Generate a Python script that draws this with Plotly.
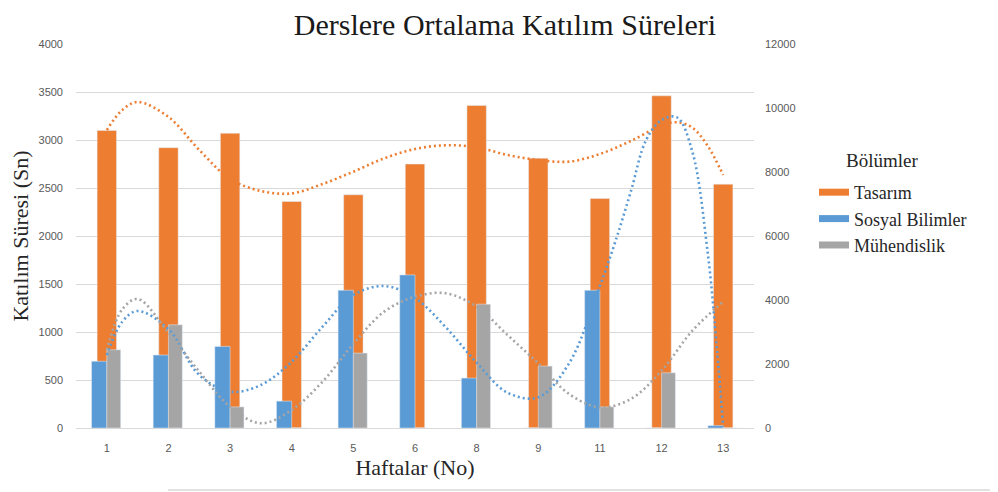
import plotly.graph_objects as go

# ---------------- data ----------------
weeks = ["1", "2", "3", "4", "5", "6", "8", "9", "11", "12", "13"]
tasarim = [3100, 2920, 3070, 2360, 2430, 2750, 3360, 2810, 2390, 3460, 2540]
sosyal = [695, 760, 850, 280, 1435, 1595, 520, 0, 1435, 0, 25]
muhendislik = [815, 1075, 220, 0, 780, 0, 1290, 645, 220, 575, 0]

# dotted trend curves (x = category position, 1 = week "1")
trend_tasarim_x = [1, 1.25, 1.5, 2, 2.5, 3, 3.5, 4, 4.5, 5, 5.5, 6, 6.5, 7, 7.5, 8, 8.5, 9, 9.5, 10, 10.25, 10.5, 10.75, 11]
trend_tasarim_y = [3104, 3312, 3396, 3240, 2896, 2594, 2469, 2444, 2542, 2670, 2809, 2906, 2945, 2924, 2844, 2792, 2775, 2854, 2990, 3150, 3185, 3128, 2937, 2635]

trend_sosyal_x = [1, 1.25, 1.5, 2, 2.5, 3, 3.5, 4, 4.5, 5, 5.5, 6, 6.5, 7, 7.5, 8, 8.5, 9, 9.25, 9.5, 9.75, 10, 10.25, 10.5, 10.75, 10.9, 11]
trend_sosyal_y = [760, 1107, 1219, 1028, 552, 378, 448, 691, 1055, 1385, 1479, 1354, 1049, 680, 368, 320, 674, 1479, 1941, 2460, 3000, 3208, 3236, 2878, 1819, 812, 14]

trend_muh_x = [1, 1.25, 1.5, 2, 2.5, 3, 3.5, 4, 4.5, 5, 5.5, 6, 6.5, 7, 7.5, 8, 8.5, 9, 9.5, 10, 10.5, 11]
trend_muh_y = [812, 1236, 1344, 993, 587, 222, 49, 188, 483, 875, 1212, 1368, 1403, 1264, 969, 674, 354, 215, 302, 597, 1014, 1316]

left_ticks = [0, 500, 1000, 1500, 2000, 2500, 3000, 3500, 4000]
right_ticks = [0, 2000, 4000, 6000, 8000, 10000, 12000]

# ---------------- style ----------------
ORANGE = "#ED7D31"
BLUE = "#5B9BD5"
GRAY = "#A5A5A5"
GRID = "#D9D9D9"
TICK = "#595959"
SERIF = "Liberation Serif, Times New Roman, serif"
SANS = "Liberation Sans, Arial, sans-serif"

pos = list(range(1, len(weeks) + 1))

fig = go.Figure()

fig.add_trace(go.Bar(x=pos, y=tasarim, name="Tasarım", marker_color=ORANGE,
                     width=0.315, offset=-0.1575, showlegend=False))
fig.add_trace(go.Bar(x=pos, y=sosyal, name="Sosyal Bilimler", marker_color=BLUE,
                     width=0.248, offset=-0.248, showlegend=False))
fig.add_trace(go.Bar(x=pos, y=muhendislik, name="Mühendislik", marker_color=GRAY,
                     width=0.225, offset=0.0, showlegend=False))

dot = "2px,3px"
fig.add_trace(go.Scatter(x=trend_tasarim_x, y=trend_tasarim_y, mode="lines",
                         line=dict(color=ORANGE, width=2.6, dash=dot, shape="spline", smoothing=1),
                         showlegend=False, hoverinfo="skip"))
fig.add_trace(go.Scatter(x=trend_sosyal_x, y=trend_sosyal_y, mode="lines",
                         line=dict(color=BLUE, width=2.6, dash=dot, shape="spline", smoothing=1),
                         showlegend=False, hoverinfo="skip"))
fig.add_trace(go.Scatter(x=trend_muh_x, y=trend_muh_y, mode="lines",
                         line=dict(color=GRAY, width=2.6, dash=dot, shape="spline", smoothing=1),
                         showlegend=False, hoverinfo="skip"))

# legend entries (wide swatches like the original)
for nm, col in [("Tasarım", ORANGE), ("Sosyal Bilimler", BLUE), ("Mühendislik", GRAY)]:
    fig.add_trace(go.Scatter(x=[None], y=[None], mode="lines", name=nm,
                             line=dict(color=col, width=7), showlegend=True))

# invisible trace to activate the right axis
fig.add_trace(go.Scatter(x=[None], y=[None], yaxis="y2", showlegend=False, hoverinfo="skip"))

fig.update_layout(
    width=998, height=492,
    margin=dict(l=68, r=252, t=36, b=72),
    paper_bgcolor="white", plot_bgcolor="white",
    barmode="overlay",
    title=dict(text="Derslere Ortalama Katılım Süreleri", x=0.498, xref="container",
               xanchor="center", y=1 - 16 / 492, yanchor="middle",
               font=dict(family=SERIF, size=30, color="#1A1A1A")),
    xaxis=dict(range=[0.5, 11.5], tickmode="array", tickvals=pos, ticktext=weeks,
               showgrid=False, zeroline=False, showline=True, linecolor=GRID, linewidth=1,
               ticks="", ticklabelstandoff=10,
               tickfont=dict(family=SANS, size=11, color=TICK),
               title=dict(text="Haftalar (No)", standoff=6,
                          font=dict(family=SERIF, size=22, color="#262626")),
               automargin=False),
    yaxis=dict(range=[0, 4000], tickmode="array", tickvals=left_ticks,
               showgrid=True, gridcolor=GRID, gridwidth=1, zeroline=False,
               ticks="", ticklabelstandoff=12,
               tickfont=dict(family=SANS, size=11, color=TICK),
               title=dict(text="Katılım Süresi (Sn)", standoff=13,
                          font=dict(family=SERIF, size=22, color="#262626")),
               automargin=False),
    yaxis2=dict(range=[0, 12000], tickmode="array", tickvals=right_ticks, tickformat="d",
                overlaying="y", side="right", showgrid=False, zeroline=False,
                ticks="", ticklabelstandoff=10,
                tickfont=dict(family=SANS, size=11, color=TICK),
                automargin=False),
    legend=dict(x=1.0885, y=0.6615, xanchor="left", yanchor="top",
                bgcolor="rgba(0,0,0,0)",
                font=dict(family=SERIF, size=18, color="#262626"),
                itemwidth=30, tracegroupgap=0),
    annotations=[
        dict(text="Bölümler", xref="paper", yref="paper", x=(882 - 76) / 678, y=(428 - 160) / 384,
             xanchor="center", yanchor="middle", showarrow=False,
             font=dict(family=SERIF, size=19, color="#262626")),
    ],
    shapes=[
        dict(type="line", xref="paper", yref="paper", x0=(168 - 76) / 678, x1=(1010 - 76) / 678,
             y0=(428 - 490) / 384, y1=(428 - 490) / 384, line=dict(color=GRID, width=1.5)),
    ],
    hovermode=False,
)

fig.write_html("out.html")
